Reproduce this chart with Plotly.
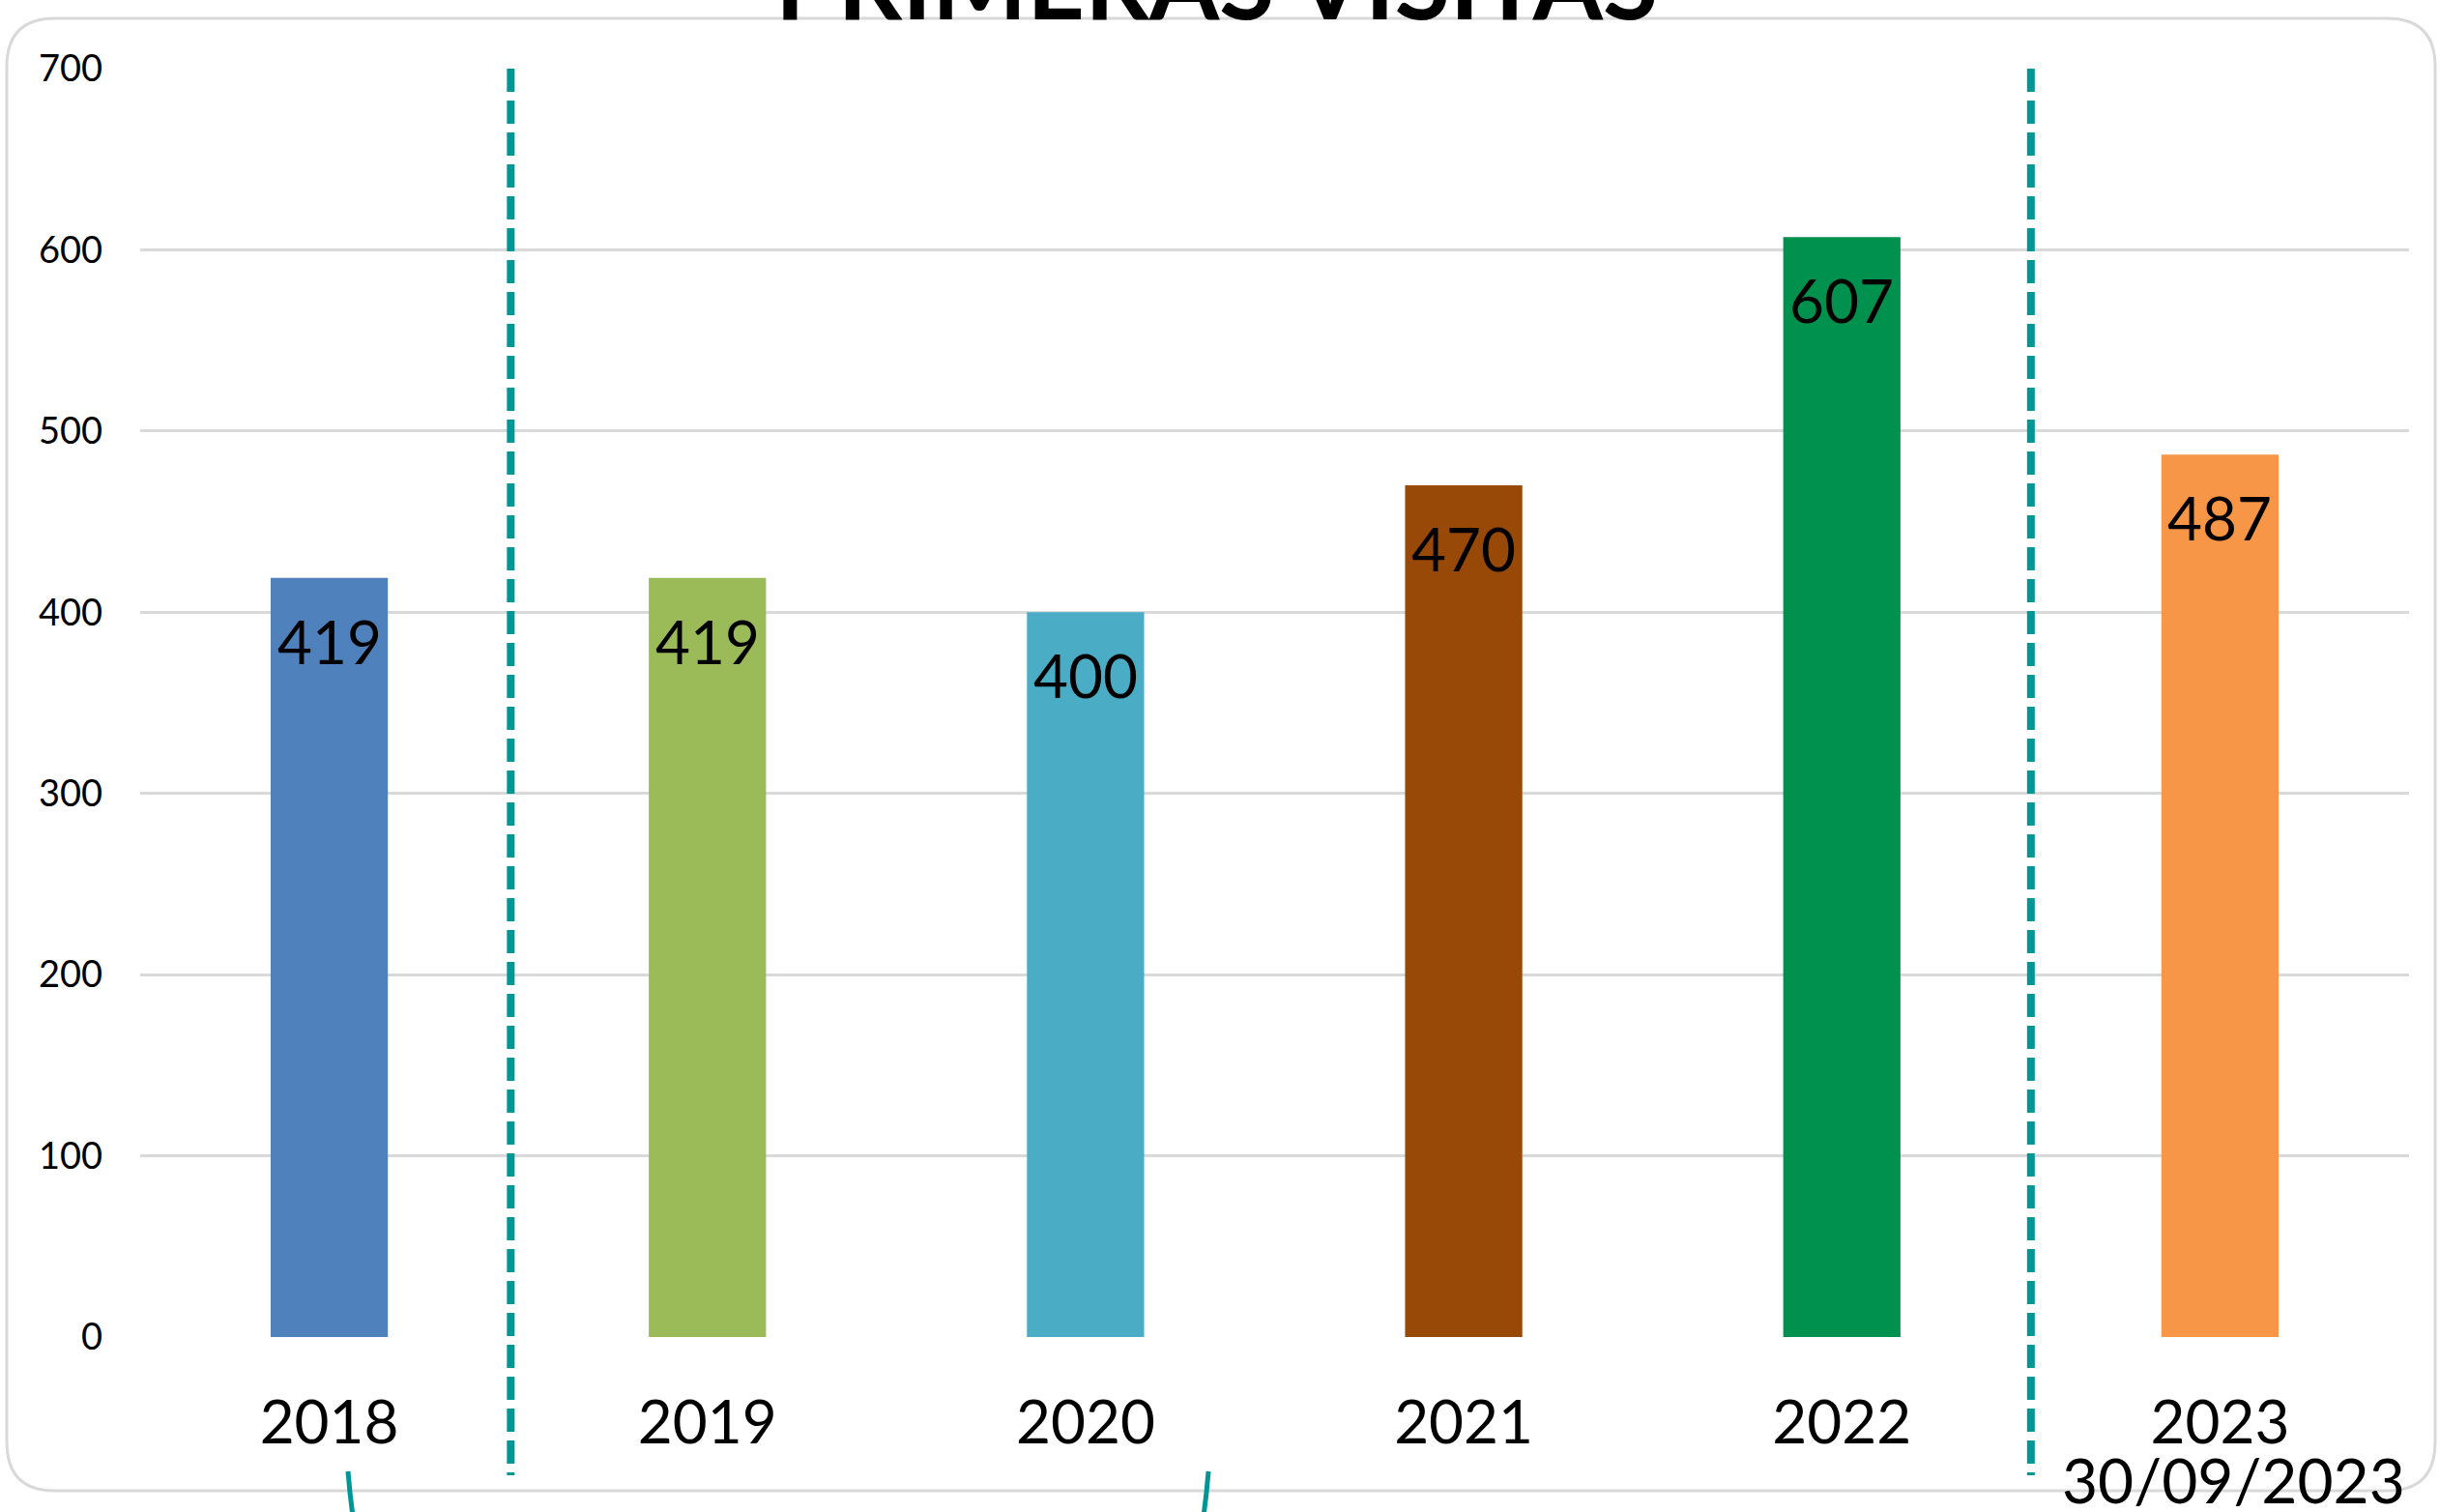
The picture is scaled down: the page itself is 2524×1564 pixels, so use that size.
import plotly.graph_objects as go

# ---- data ----
years = ["2018", "2019", "2020", "2021", "2022", "2023"]
visits = [419, 419, 400, 470, 607, 487]
bar_colors = ["#4F81BD", "#9BBB59", "#4BACC6", "#984807", "#00914F", "#F79646"]
y_ticks = [0, 100, 200, 300, 400, 500, 600, 700]
title_text = "PRIMERAS VISITAS"
note_text = "30/09/2023"
separators = [0.48, 4.5]  # dashed separators between categories

W, H = 2524, 1564
ML, MR, MT, MB = 145, 32, 71, 181
PW, PH = W - ML - MR, H - MT - MB


def px(x):
    return (x - ML) / PW


def py(y):
    return (H - MB - y) / PH


FONT = "Lato, 'Liberation Sans', sans-serif"
TEAL = "#009695"

xs = list(range(len(years)))

fig = go.Figure()
fig.add_trace(go.Bar(
    x=xs, y=visits, marker=dict(color=bar_colors, line=dict(width=0)),
    width=0.31, hoverinfo="skip", showlegend=False,
))

annotations = []
for i, v in zip(xs, visits):
    annotations.append(dict(
        x=i, y=v, xref="x", yref="y", text=str(v), showarrow=False,
        yanchor="top", yshift=-26,
        font=dict(family=FONT, size=62, color="#000000"),
    ))

annotations.append(dict(
    x=5, y=py(1530), xref="x", yref="paper", text=note_text, showarrow=False,
    yanchor="middle", xanchor="center", xshift=14,
    font=dict(family=FONT, size=64, color="#000000"),
))
annotations.append(dict(
    x=px(1258), y=py(44), xref="paper", yref="paper", text="<b>" + title_text + "</b>",
    showarrow=False, yanchor="bottom", xanchor="center",
    font=dict(family=FONT, size=104, color="#000000"),
))

shapes = []
# rounded border
x0, x1, y0, y1, r = 7, 2519, 19, 1542, 50
rx, ry = r / PW, r / PH
X0, X1, Y0, Y1 = px(x0), px(x1), py(y1), py(y0)
path = (f"M {X0+rx},{Y1} L {X1-rx},{Y1} Q {X1},{Y1} {X1},{Y1-ry} "
        f"L {X1},{Y0+ry} Q {X1},{Y0} {X1-rx},{Y0} L {X0+rx},{Y0} "
        f"Q {X0},{Y0} {X0},{Y0+ry} L {X0},{Y1-ry} Q {X0},{Y1} {X0+rx},{Y1} Z")
shapes.append(dict(type="path", xref="paper", yref="paper", path=path,
                   line=dict(color="#d9d9d9", width=3), layer="below"))

for s in separators:
    shapes.append(dict(type="line", xref="x", yref="paper", x0=s, x1=s,
                       y0=py(71), y1=py(1526),
                       line=dict(color=TEAL, width=8, dash="24px,9px")))

# bottom bracket curves
for (a, b, c) in [((360, 1522), (362, 1548), (366, 1575)),
                  ((1250, 1522), (1248, 1548), (1244, 1575))]:
    shapes.append(dict(type="path", xref="paper", yref="paper",
                       path=f"M {px(a[0])},{py(a[1])} Q {px(b[0])},{py(b[1])} {px(c[0])},{py(c[1])}",
                       line=dict(color=TEAL, width=5)))

fig.update_layout(
    width=W, height=H,
    margin=dict(l=ML, r=MR, t=MT, b=MB, pad=0),
    paper_bgcolor="white", plot_bgcolor="white",
    bargap=0.69,
    annotations=annotations, shapes=shapes,
    xaxis=dict(range=[-0.5, 5.5], tickvals=xs, ticktext=years,
               showgrid=False, zeroline=False, showline=False,
               ticks="", ticklabelstandoff=47,
               tickfont=dict(family=FONT, size=62, color="#000000")),
    yaxis=dict(range=[0, 700], tickvals=y_ticks, showgrid=True,
               gridcolor="#d9d9d9", gridwidth=2.5, zeroline=False,
               showline=False, ticks="", ticklabelstandoff=38,
               tickfont=dict(family=FONT, size=38, color="#000000")),
)

fig.write_html("out.html")
